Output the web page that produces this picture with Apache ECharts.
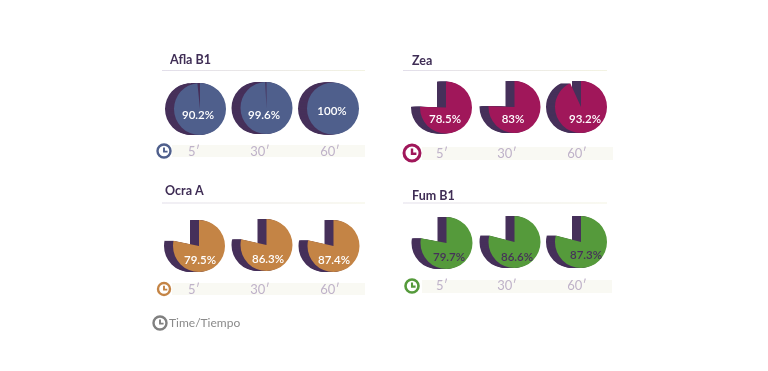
<!DOCTYPE html>
<html>
<head>
<meta charset="utf-8">
<style>
  html, body { margin: 0; padding: 0; background: #fff; }
  #chart { width: 768px; height: 371px; }
</style>
</head>
<body>
<div id="chart"></div>
<script src="https://cdn.jsdelivr.net/npm/echarts@6/dist/echarts.min.js"></script>
<script>
const timeLabels = ["5′", "30′", "60′"]
const legendText = 'Time/Tiempo'

const toxinNames = ['Afla B1', 'Zea', 'Ocra A', 'Fum B1']

// printed on the slices
const aflaLabels = ['90.2%', '99.6%', '100%']
const zeaLabels = ['78.5%', '83%', '93.2%']
const ocraLabels = ['79.5%', '86.3%', '87.4%']
const fumLabels = ['79.7%', '86.6%', '87.3%']

// slice size as drawn
const aflaShares = [98.4, 99.2, 100]
const zeaShares = [75.5, 75.5, 93.2]
const ocraShares = [78.2, 78.5, 78.5]
const fumShares = [78, 79, 79]

const panels = [
  {
    name: toxinNames[0], labels: aflaLabels, shares: aflaShares, color: '#4f5f8c', labelColor: '#fff',
    centers: [[200, 109], [266.5, 108], [333, 108.5]],
    labelPos: [[198, 115], [264, 115], [332, 111]],
    titleX: 170, titleY: 60, lineY: 70.5, lineX: [162, 365],
    strip: [172, 145, 193, 12], tickX: [194, 260, 330], tickY: 152, clock: [164, 151, 6.5], clockWidth: 2.4
  },
  {
    name: toxinNames[1], labels: zeaLabels, shares: zeaShares, color: '#a0175a', labelColor: '#fff',
    centers: [[446, 107.5], [514.5, 107], [581, 107]],
    labelPos: [[445, 119], [513, 119], [585, 119]],
    titleX: 412, titleY: 61, lineY: 70.5, lineX: [403, 607],
    strip: [422, 147, 191, 13], tickX: [442, 507, 577], tickY: 154, clock: [412, 153, 8], clockWidth: 3
  },
  {
    name: toxinNames[2], labels: ocraLabels, shares: ocraShares, color: '#c48445', labelColor: '#fff',
    centers: [[199, 246], [266.5, 245], [333.5, 246]],
    labelPos: [[200, 260], [268, 259], [334, 260]],
    titleX: 165, titleY: 191, lineY: 203, lineX: [162, 365],
    strip: [172, 283, 193, 12], tickX: [194, 260, 330], tickY: 290, clock: [164, 289, 6], clockWidth: 2.4
  },
  {
    name: toxinNames[3], labels: fumLabels, shares: fumShares, color: '#559a3b', labelColor: '#46305a',
    centers: [[446.5, 243], [514.5, 242], [581, 242]],
    labelPos: [[449, 257], [517, 257], [586, 255]],
    titleX: 412, titleY: 196, lineY: 203, lineX: [403, 607],
    strip: [422, 280, 190, 13], tickX: [442, 507, 577], tickY: 286, clock: [412, 286, 6.5], clockWidth: 2.6
  }
]

const backColor = '#46305a'
const depth = 9
const radius = 26

function clockIcon (x, y, r, color, width) {
  return [
    { type: 'circle', shape: { cx: x, cy: y, r: r }, style: { fill: '#fff', stroke: color, lineWidth: width } },
    {
      type: 'polyline',
      shape: { points: [[x, y - r * 0.55], [x, y + r * 0.1], [x + r * 0.55, y + r * 0.1]] },
      style: { fill: null, stroke: color, lineWidth: width * 0.8 }
    }
  ]
}

const series = []
const graphic = []

panels.forEach(function (p) {
  p.shares.forEach(function (share, i) {
    // stacked copies, moved left one pixel at a time, make the dark side wall
    for (let d = depth; d >= 0; d--) {
      series.push({
        type: 'pie',
        silent: true,
        animation: false,
        radius: [0, radius],
        center: [p.centers[i][0] - d, p.centers[i][1]],
        startAngle: 90,
        label: { show: false },
        labelLine: { show: false },
        data: [
          { value: share, itemStyle: { color: d === 0 ? p.color : backColor } },
          { value: 100 - share, itemStyle: { color: 'transparent' } }
        ]
      })
    }
  })

  graphic.push({
    type: 'text', x: p.titleX, y: p.titleY,
    style: { text: p.name, fill: '#3f2d55', font: '700 12.5px Lato', textVerticalAlign: 'middle' }
  })
  graphic.push({
    type: 'rect',
    shape: { x: p.lineX[0], y: p.lineY - 0.5, width: p.lineX[1] - p.lineX[0], height: 1 },
    style: {
      fill: new echarts.graphic.LinearGradient(0, 0, 1, 0, [
        { offset: 0, color: '#e2deea' },
        { offset: 1, color: '#f3f3e2' }
      ])
    }
  })
  graphic.push({
    type: 'rect',
    shape: { x: p.strip[0], y: p.strip[1], width: p.strip[2], height: p.strip[3] },
    style: { fill: '#f9f9f3' }
  })
  timeLabels.forEach(function (t, i) {
    graphic.push({
      type: 'text', x: p.tickX[i], y: p.tickY,
      style: { text: t, fill: '#bfb2c9', font: '13px Lato', textAlign: 'center', textVerticalAlign: 'middle' }
    })
  })
  clockIcon(p.clock[0], p.clock[1], p.clock[2], p.color, p.clockWidth).forEach(function (el) { graphic.push(el) })
})

// value labels sit above all the pies
panels.forEach(function (p) {
  p.labels.forEach(function (t, i) {
    graphic.push({
      type: 'text', x: p.labelPos[i][0], y: p.labelPos[i][1], z: 50,
      style: { text: t, fill: p.labelColor, font: '600 11.5px Lato', textAlign: 'center', textVerticalAlign: 'middle' }
    })
  })
})

clockIcon(160, 323, 6.5, '#808080', 2.4).forEach(function (el) { graphic.push(el) })
graphic.push({
  type: 'text', x: 169, y: 323,
  style: { text: legendText, fill: '#8a8a8a', font: '12px Lato', textVerticalAlign: 'middle' }
})

const chart = echarts.init(document.getElementById('chart'), null, { renderer: 'canvas' })
chart.setOption({
  animation: false,
  backgroundColor: '#fff',
  series: series,
  graphic: { elements: graphic }
})
</script>
</body>
</html>
